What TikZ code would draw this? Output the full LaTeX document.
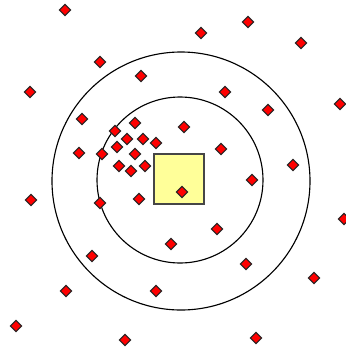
\documentclass[tikz,border=0pt]{standalone}
\usepackage{tikz}
\usetikzlibrary{shapes.geometric}
\definecolor{ptred}{RGB}{255, 0, 0}
\definecolor{boxyellow}{RGB}{255, 255, 153}
\definecolor{boxedge}{RGB}{70, 70, 70}
\tikzset{
  ring/.style  = {draw=black, line width=0.8pt},
  qbox/.style  = {draw=boxedge, fill=boxyellow, line width=0.8pt},
  pt/.style    = {diamond, draw=black!85, fill=ptred, line width=0.8pt, inner sep=0pt, minimum size=0.29cm},
}
\begin{document}
\begin{tikzpicture}[x=0.025cm, y=-0.025cm]
  % fixed frame, pixel units
  \useasboundingbox (0,0) rectangle (346,351);

  % search rings
  \draw[ring] (181,181) circle (129);
  \draw[ring] (180,180) circle (83);

  % query window
  \draw[qbox] (154,154) rectangle (204,204);

  % data points
  \foreach \px/\py [count=\i] in {
      65/10, 100/62, 141/76, 30/92, 82/119, 135/123, 115/131, 127/139,
      143/139, 156/143, 117/147, 135/154, 102/154, 79/153, 119/166, 131/171,
      145/166, 184/127, 139/199, 100/203, 182/192, 248/22, 201/33, 301/43,
      225/92, 268/110, 340/104, 221/149, 293/165, 31/200, 171/244, 92/256,
      66/291, 156/291, 16/326, 125/340, 252/180, 344/219, 217/229, 246/264,
      314/278, 256/338}
    \node[pt] (p\i) at (\px,\py) {};

\end{tikzpicture}
\end{document}
